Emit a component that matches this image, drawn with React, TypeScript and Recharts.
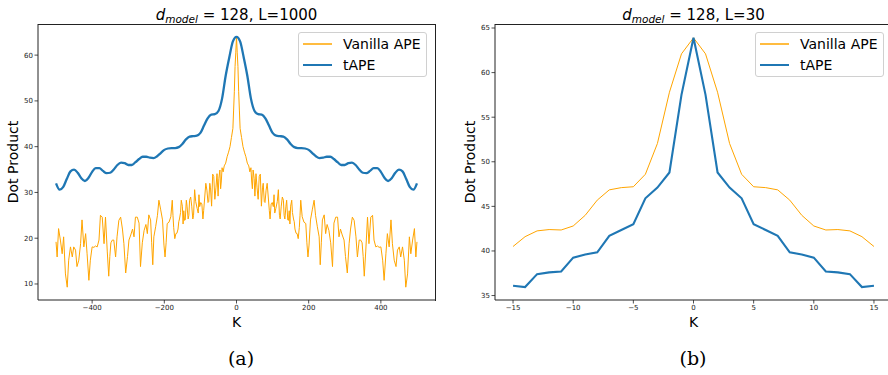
import React from "react";
import { LineChart, Line, XAxis, YAxis } from "recharts";

// ---- Data: panel (a), L=1000 (symmetric in K; positive half listed) ----
const tapeLongK = [0, 10, 20, 30, 40, 50, 60, 70, 80, 90, 100, 110, 120, 130, 140, 150, 160, 170, 180, 190, 200, 210, 220, 230, 240, 250, 260, 270, 280, 290, 300, 310, 320, 330, 340, 350, 360, 370, 380, 390, 400, 410, 420, 430, 440, 450, 460, 470, 480, 490, 500];
const tapeLongHalf = [64, 63, 59.5, 55.5, 50.5, 47.8, 47.1, 47.0, 46.2, 44.6, 43.0, 42.4, 42.3, 42.2, 41.6, 40.6, 39.9, 39.7, 39.7, 39.6, 39.3, 38.6, 37.9, 37.5, 37.6, 37.8, 37.8, 37.3, 36.6, 36.0, 36.0, 36.4, 36.5, 36.0, 35.0, 34.3, 34.2, 34.7, 35.3, 35.3, 34.5, 33.2, 32.5, 33.1, 34.3, 35.0, 34.6, 33.0, 31.2, 30.6, 32.0];

const vanillaLongK = [0, 2, 4, 6, 8, 10, 14, 18, 22, 26, 30, 34, 37, 40, 42, 44, 46, 49, 51, 54, 57, 60, 63, 66, 69, 72, 74, 77, 79, 82, 85, 88, 91, 93, 96, 99, 102, 104, 106, 109, 113, 116, 119, 121, 124, 127, 130, 132, 134, 137, 139, 142, 144, 146, 148, 150, 153, 155, 158, 160, 162, 165, 168, 171, 174, 176, 178, 182, 187, 192, 195, 198, 201, 205, 210, 215, 219, 224, 229, 232, 235, 238, 243, 247, 251, 256, 261, 266, 270, 275, 280, 284, 288, 293, 298, 302, 307, 312, 316, 321, 326, 331, 335, 340, 344, 348, 351, 354, 358, 363, 367, 372, 377, 381, 386, 391, 395, 400, 405, 409, 414, 418, 423, 428, 432, 437, 442, 446, 451, 455, 460, 465, 469, 474, 479, 483, 488, 493, 497, 500];
const vanillaLongHalf = [64, 60.5, 57.5, 52, 48, 44, 42, 40, 38.8, 37.8, 36.4, 35.8, 34.5, 35.4, 32.5, 30.8, 34.9, 33, 29.2, 34.1, 31, 28.5, 33.5, 34, 27, 31, 32, 28, 27.8, 30.5, 32, 29, 26, 24.2, 27.5, 27.8, 26.9, 29.5, 25.5, 26.5, 28, 30.6, 25, 24.2, 27, 29, 28.3, 25, 24.2, 27, 28.3, 24, 23.9, 26, 23.1, 27, 28.3, 25.6, 24.2, 23.6, 22, 21.1, 21, 19.9, 22.3, 25, 28.3, 24.7, 23.5, 23.2, 19, 15.9, 18.5, 24, 26.2, 28.3, 25, 22.5, 20.3, 14.2, 19, 24, 25.1, 21, 23, 21.7, 19, 13.8, 23.3, 24.6, 24.6, 20.3, 22, 20.7, 19.6, 16, 12.4, 18.8, 22, 24.6, 23.9, 20.3, 15.9, 19.6, 19.6, 19, 16, 11.7, 17, 24.6, 18.8, 24.6, 25, 19.6, 18.1, 18.3, 18, 18.1, 15.2, 10.8, 16.6, 21, 18.1, 24, 18.8, 15.2, 13.8, 17.4, 18.1, 15.9, 18.1, 15.2, 9.3, 12.2, 20.3, 16.6, 19.6, 22.1, 15.9, 19.2];

// ---- Data: panel (b), L=30 ----
const shortK = [-15, -14, -13, -12, -11, -10, -9, -8, -7, -6, -5, -4, -3, -2, -1, 0, 1, 2, 3, 4, 5, 6, 7, 8, 9, 10, 11, 12, 13, 14, 15];
const vanillaShort = [40.5, 41.6, 42.25, 42.4, 42.35, 42.8, 44.0, 45.7, 46.85, 47.1, 47.2, 48.6, 52.05, 57.8, 62.1, 63.9, 62.1, 57.8, 52.05, 48.6, 47.2, 47.1, 46.85, 45.7, 44.0, 42.8, 42.35, 42.4, 42.25, 41.6, 40.5];
const tapeShort = [36.1, 35.95, 37.4, 37.6, 37.7, 39.25, 39.6, 39.85, 41.7, 42.35, 43.0, 45.9, 47.1, 48.8, 57.5, 63.9, 57.5, 48.8, 47.1, 45.9, 43.0, 42.35, 41.7, 39.85, 39.6, 39.25, 37.7, 37.6, 37.4, 35.95, 36.1];

// ---- Tick labels ----
const longTicksX = [-400, -200, 0, 200, 400];
const longTicksY = [10, 20, 30, 40, 50, 60];
const shortTicksX = [-15, -10, -5, 0, 5, 10, 15];
const shortTicksY = [35, 40, 45, 50, 55, 60, 65];

const seriesNames = ["Vanilla APE", "tAPE"];
const ORANGE = "#ffa500";
const BLUE = "#1f77b4";
const FONT = "'DejaVu Sans', sans-serif";

function mirror(ks: number[], vs: number[]) {
  const out: { k: number; v: number }[] = [];
  for (let i = ks.length - 1; i > 0; i--) out.push({ k: -ks[i], v: vs[i] });
  for (let i = 0; i < ks.length; i++) out.push({ k: ks[i], v: vs[i] });
  return out;
}
const zipKV = (ks: number[], vs: number[]) => ks.map((k, i) => ({ k, v: vs[i] }));

const tapeLong = mirror(tapeLongK, tapeLongHalf);
const vanillaLong = mirror(vanillaLongK, vanillaLongHalf);
const tapeS = zipKV(shortK, tapeShort);
const vanillaS = zipKV(shortK, vanillaShort);

const fmt = (v: number) => String(v).replace("-", "\u2212");
const tickStyle = { fontSize: 7, fill: "#1a1a1a", fontFamily: FONT };

type PanelProps = {
  left: number;
  xDomain: [number, number];
  yDomain: [number, number];
  xTicks: number[];
  yTicks: number[];
  vanilla: { k: number; v: number }[];
  tape: { k: number; v: number }[];
  tapeWidth: number;
  tapeType: "monotone" | "linear";
  title: string;
  caption: string;
  captionX: number;
  rightSpine: boolean;
};

function Legend({ x, y }: { x: number; y: number }) {
  return (
    <div
      style={{
        position: "absolute",
        left: x,
        top: y,
        width: 127,
        height: 43,
        border: "1px solid #d0d0d0",
        borderRadius: 3,
        background: "rgba(255,255,255,0.8)",
        fontFamily: FONT,
        fontSize: 14,
        color: "#000",
      }}
    >
      {seriesNames.map((n, i) => (
        <div key={n} style={{ position: "absolute", left: 0, top: 2 + i * 21, height: 18, width: 127 }}>
          <div
            style={{
              position: "absolute",
              left: 4,
              top: 9 - (i === 0 ? 1 : 1.25),
              width: 29,
              height: i === 0 ? 2 : 2.5,
              background: i === 0 ? ORANGE : BLUE,
              opacity: i === 0 ? 0.75 : 1,
            }}
          />
          <div style={{ position: "absolute", left: 44, top: 0, lineHeight: "18px", whiteSpace: "nowrap" }}>{n}</div>
        </div>
      ))}
    </div>
  );
}

function Panel(p: PanelProps) {
  const plotL = 38, plotR = 435, plotT = 24, plotB = 300;
  const cx = (plotL + plotR) / 2;
  return (
    <div style={{ position: "absolute", left: p.left, top: 0, width: 444, height: 375 }}>
      <LineChart width={444} height={375} margin={{ top: 24, right: 9, bottom: 55, left: 8 }}>
        <XAxis
          dataKey="k"
          type="number"
          domain={p.xDomain}
          ticks={p.xTicks}
          allowDataOverflow
          height={20}
          tickSize={3.5}
          tickMargin={1.5}
          tick={tickStyle}
          tickFormatter={fmt}
          axisLine={{ stroke: "#222", strokeWidth: 1 }}
          tickLine={{ stroke: "#222", strokeWidth: 0.8 }}
        />
        <YAxis
          type="number"
          domain={p.yDomain}
          ticks={p.yTicks}
          allowDataOverflow
          width={30}
          tickSize={3.5}
          tickMargin={1.5}
          tick={tickStyle}
          tickFormatter={fmt}
          axisLine={{ stroke: "#222", strokeWidth: 1 }}
          tickLine={{ stroke: "#222", strokeWidth: 0.8 }}
        />
        <Line
          data={p.vanilla}
          dataKey="v"
          name={seriesNames[0]}
          type="linear"
          stroke={ORANGE}
          strokeWidth={1}
          dot={false}
          activeDot={false}
          isAnimationActive={false}
        />
        <Line
          data={p.tape}
          dataKey="v"
          name={seriesNames[1]}
          type={p.tapeType}
          stroke={BLUE}
          strokeWidth={p.tapeWidth}
          dot={false}
          activeDot={false}
          isAnimationActive={false}
        />
      </LineChart>
      {/* top and right spines */}
      <div style={{ position: "absolute", left: plotL - 0.5, top: plotT - 0.5, width: plotR - plotL + 1, height: 0, borderTop: "1px solid #222" }} />
      {p.rightSpine && (
        <div style={{ position: "absolute", left: plotR - 0.5, top: plotT - 0.5, width: 0, height: plotB - plotT + 1, borderLeft: "1px solid #222" }} />
      )}
      {/* title */}
      <div
        style={{
          position: "absolute",
          left: cx - 150,
          width: 300,
          top: 8,
          textAlign: "center",
          fontFamily: FONT,
          fontSize: 15,
          lineHeight: 1,
          whiteSpace: "nowrap",
          color: "#000",
        }}
      >
        <span style={{ fontStyle: "italic" }}>d</span>
        <span style={{ fontStyle: "italic", fontSize: "0.7em", position: "relative", top: "0.3em" }}>model</span>
        <span> = 128, {p.title}</span>
      </div>
      {/* y label */}
      <div
        style={{
          position: "absolute",
          left: 13 - 60,
          top: (plotT + plotB) / 2 - 9,
          width: 120,
          height: 18,
          lineHeight: "18px",
          textAlign: "center",
          transform: "rotate(-90deg)",
          fontFamily: FONT,
          fontSize: 14,
          color: "#000",
        }}
      >
        Dot Product
      </div>
      {/* x label */}
      <div
        style={{
          position: "absolute",
          left: cx - 20,
          width: 40,
          top: 313,
          lineHeight: "18px",
          textAlign: "center",
          fontFamily: FONT,
          fontSize: 14,
          color: "#000",
        }}
      >
        K
      </div>
      {/* caption */}
      <div
        style={{
          position: "absolute",
          left: p.captionX - 30,
          width: 60,
          top: 346,
          lineHeight: "24px",
          textAlign: "center",
          fontFamily: "'DejaVu Serif', 'Liberation Serif', serif",
          fontSize: 19,
          color: "#000",
        }}
      >
        {p.caption}
      </div>
      <Legend x={plotR - 8 - 129} y={plotT + 8} />
    </div>
  );
}

export default function App() {
  return (
    <div style={{ position: "fixed", left: 0, top: 0, width: 888, height: 375, overflow: "hidden", background: "#fff" }}>
      <Panel
        left={0}
        xDomain={[-550, 550]}
        yDomain={[6.5, 66.8]}
        xTicks={longTicksX}
        yTicks={longTicksY}
        vanilla={vanillaLong}
        tape={tapeLong}
        tapeWidth={2.3}
        tapeType="monotone"
        title="L=1000"
        caption="(a)"
        captionX={241}
        rightSpine
      />
      <Panel
        left={457}
        xDomain={[-16.5, 16.5]}
        yDomain={[34.5, 65.45]}
        xTicks={shortTicksX}
        yTicks={shortTicksY}
        vanilla={vanillaS}
        tape={tapeS}
        tapeWidth={2.1}
        tapeType="linear"
        title="L=30"
        caption="(b)"
        captionX={693 - 457}
        rightSpine={false}
      />
    </div>
  );
}
